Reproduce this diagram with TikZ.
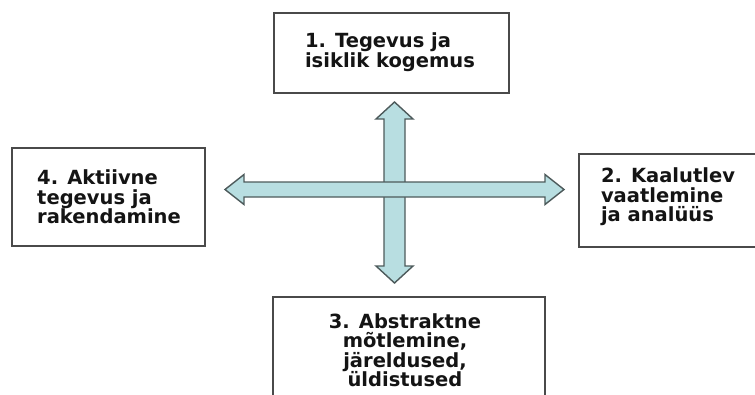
\documentclass[tikz,border=0pt]{standalone}
\usepackage{fontspec}
\setmainfont{DejaVu Sans}
\usetikzlibrary{calc}
\definecolor{boxline}{HTML}{4A4A4A}
\definecolor{arrfill}{HTML}{B8DEE1}
\definecolor{arrline}{HTML}{4D5A5B}
\definecolor{txt}{HTML}{141414}
\begin{document}
\begin{tikzpicture}[x=1pt,y=-1pt,
  boxstyle/.style={draw=boxline, line width=1.6pt, fill=white, inner sep=0pt, anchor=north west},
  lbl/.style={font=\bfseries\fontsize{19.5}{19.5}\selectfont, text=txt, align=left, inner sep=0pt},
  blockarrow/.style={draw=arrline, fill=arrfill, line width=1.4pt, line join=miter}]
\useasboundingbox (0,0) rectangle (755,394);
\clip (0,0) rectangle (755,394);
% boxes
\node[boxstyle, minimum width=235pt, minimum height=80pt] (b1) at (273,12) {};
\node[boxstyle, minimum width=190pt, minimum height=93pt] (b2) at (578,153) {};
\node[boxstyle, minimum width=272pt, minimum height=108pt] (b3) at (272,296) {};
\node[boxstyle, minimum width=193pt, minimum height=98pt] (b4) at (11,147) {};
% labels
\node[lbl] (t1) at (390,52) {1. Tegevus ja\\isiklik kogemus};
\node[lbl] (t2) at (668,197) {2. Kaalutlev\\vaatlemine\\ja analüüs};
\node[lbl, align=center] (t3) at (405,350) {3. Abstraktne\\mõtlemine,\\järeldused,\\üldistused};
\node[lbl] (t4) at (109,197) {4. Aktiivne\\tegevus ja\\rakendamine};
% arrow tips
\coordinate (vt) at (394.5,102);
\coordinate (vb) at (394.5,283);
\coordinate (hl) at (225,189.5);
\coordinate (hr) at (564,189.5);
% vertical double arrow
\draw[blockarrow]
  (vt) -- ($(vt)+(18.5,17)$) -- ($(vt)+(10.5,17)$) -- ($(vb)+(10.5,-17)$)
  -- ($(vb)+(18.5,-17)$) -- (vb) -- ($(vb)+(-18.5,-17)$) -- ($(vb)+(-10.5,-17)$)
  -- ($(vt)+(-10.5,17)$) -- ($(vt)+(-18.5,17)$) -- cycle;
% horizontal double arrow
\draw[blockarrow]
  (hl) -- ($(hl)+(19,-15)$) -- ($(hl)+(19,-7.5)$) -- ($(hr)+(-19,-7.5)$)
  -- ($(hr)+(-19,-15)$) -- (hr) -- ($(hr)+(-19,15)$) -- ($(hr)+(-19,7.5)$)
  -- ($(hl)+(19,7.5)$) -- ($(hl)+(19,15)$) -- cycle;
\end{tikzpicture}
\end{document}
